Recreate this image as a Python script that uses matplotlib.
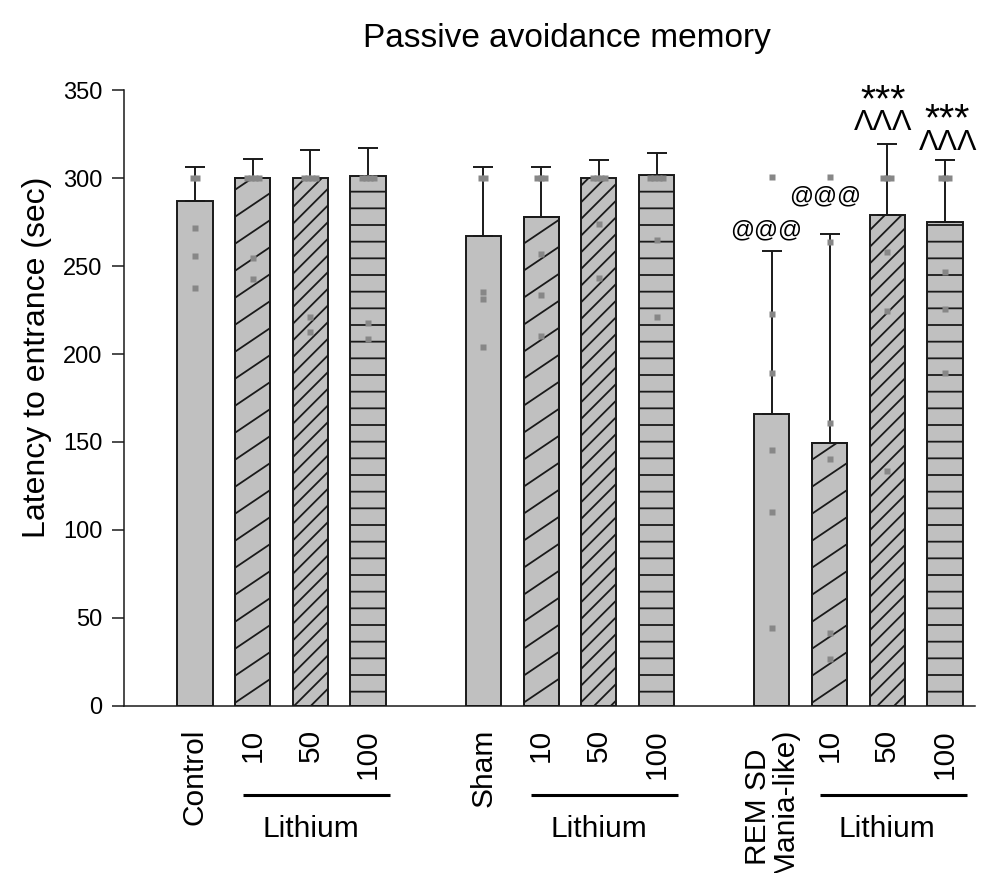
import numpy as np
import matplotlib
matplotlib.use("Agg")
import matplotlib.pyplot as plt
from matplotlib.collections import LineCollection
from matplotlib.transforms import blended_transform_factory

plt.rcParams['font.family'] = ['Liberation Sans', 'DejaVu Sans']
plt.rcParams['hatch.linewidth'] = 1.3
plt.rcParams['hatch.color'] = '#1a1a1a'

# ---------------- data ----------------
tick_labels = ['Control', '10', '50', '100',
               'Sham', '10', '50', '100',
               'REM SD\n(Mania-like)', '10', '50', '100']
positions = [0, 1, 2, 3, 5, 6, 7, 8, 10, 11, 12, 13]
means = [287, 300, 300, 301, 267, 278, 300, 301.5, 166, 149.6, 279, 275]
sem = [19, 11, 16, 16, 39, 28, 10, 12.5, 92.5, 118.5, 40.5, 35]
patterns = ['none', 'sparse', 'dense', 'horiz'] * 3

points = [
    [300, 300, 271.8, 255.7, 237.7],
    [300, 300, 300, 300, 254.7, 242.6],
    [300, 300, 300, 300, 221, 212.6],
    [300, 300, 300, 300, 217.4, 208.5],
    [300, 300, 235.4, 231, 203.8],
    [300, 300, 300, 256.6, 233.5, 210.4],
    [300, 300, 300, 300, 273.9, 243.4],
    [300, 300, 300, 300, 264.8, 220.8],
    [300.4, 223, 189.4, 145.3, 110.4, 44.5],
    [300.4, 263.8, 161, 140.3, 41.5, 26.7],
    [300, 300, 300, 257.8, 224.6, 133.7],
    [300, 300, 300, 246.6, 225.8, 189],
]

ann_text = ['@@@', '@@@', '***', 'ΛΛΛ', '***', 'ΛΛΛ']
ann_bar = [8, 9, 10, 10, 11, 11]
ann_dx = [-0.1, -0.08, -0.08, -0.07, 0.04, 0.05]
ann_y = [267, 286, 338, 327, 327, 316]
ann_size = [17, 17, 28, 21, 28, 21]

group_label = 'Lithium'
group_bars = [(1, 3), (5, 7), (9, 11)]   # indices of first/last lithium bar

# ---------------- style ----------------
fill = '#c0c0c0'
edge = '#1a1a1a'
dot_color = '#878787'
bar_width = 0.61

fig = plt.figure(figsize=(9.86, 8.73), dpi=100)
ax = fig.add_axes([0.1258, 0.1913, 0.863, 0.7056])
ax.set_xlim(-1.23, 13.52)
ax.set_ylim(0, 350)

hatch_map = {'none': None, 'sparse': None, 'dense': '//', 'horiz': '-'}
bars = ax.bar(positions, means, width=bar_width, color=fill, edgecolor=edge,
              linewidth=1.4, zorder=2)
for b, p in zip(bars, patterns):
    h = hatch_map[p]
    if h:
        b.set_hatch(h)

# custom sparse diagonal hatch (clipped to its bar)
p0 = ax.transData.transform((0, 0))
p1 = ax.transData.transform((1, 1))
sx, sy = p1[0] - p0[0], p1[1] - p0[1]
for b, p in zip(bars, patterns):
    if p != 'sparse':
        continue
    x0, y0 = b.get_x(), b.get_y()
    w, h = b.get_width(), b.get_height()
    m = np.tan(np.radians(34)) * sx / sy
    dy = 27.0 / sy
    starts = np.arange(y0 - m * w, y0 + h, dy)
    segs = [[(x0, s), (x0 + w, s + m * w)] for s in starts]
    lc = LineCollection(segs, colors=edge, linewidths=1.3, zorder=2.2)
    ax.add_collection(lc, autolim=False)
    lc.set_clip_path(b.get_path(), b.get_transform())
    ax.bar([b.get_x() + w / 2], [h], width=w, fill=False, edgecolor=edge,
           linewidth=1.4, zorder=2.3)

ax.errorbar(positions, means, yerr=[np.zeros(len(sem)), sem], fmt='none',
            ecolor=edge, elinewidth=1.4, capsize=7.2, capthick=1.4, zorder=3)

# individual points
for pos, vals in zip(positions, points):
    vals = np.array(vals)
    xs = np.full(len(vals), float(pos))
    uniq, counts = np.unique(vals, return_counts=True)
    for u, c in zip(uniq, counts):
        if c > 1:
            idx = np.where(vals == u)[0]
            xs[idx] = pos + (np.arange(c) - (c - 1) / 2) * 0.07
    ax.plot(xs, vals, 's', ms=4, color=dot_color, mec='none', zorder=4)

# annotations
for t, bi, dx, y, fs in zip(ann_text, ann_bar, ann_dx, ann_y, ann_size):
    ax.text(positions[bi] + dx, y, t, ha='center', va='baseline',
            fontsize=fs, color='black', clip_on=False, zorder=5)

# axes styling
for s in ['top', 'right']:
    ax.spines[s].set_visible(False)
for s in ['left', 'bottom']:
    ax.spines[s].set_linewidth(1.1)
    ax.spines[s].set_color(edge)
ax.set_yticks(np.arange(0, 351, 50))
ax.tick_params(axis='y', direction='out', length=8.6, width=1.1, pad=7,
               labelsize=17, colors=edge, labelcolor='black')
ax.set_xticks(positions)
ax.set_xticklabels(tick_labels, rotation=90, fontsize=21.5,
                   multialignment='center', linespacing=0.95)
ax.tick_params(axis='x', length=0, pad=16.5)

# group underline + label
trans = blended_transform_factory(ax.transData, ax.transAxes)
for a, bidx in group_bars:
    xa = positions[a] - 0.17
    xb = positions[bidx] + 0.38
    ax.plot([xa, xb], [-0.1445, -0.1445], color='black', lw=2.2,
            transform=trans, clip_on=False, solid_capstyle='butt')
    ax.text((positions[a] + positions[bidx]) / 2, -0.2127, group_label,
            transform=trans, ha='center', va='baseline', fontsize=21.5)

fig.text(0.575, 0.946, 'Passive avoidance memory', ha='center',
         va='baseline', fontsize=24)
fig.text(0.038, 1 - 357 / 873, 'Latency to entrance (sec)', rotation=90,
         ha='center', va='center', fontsize=23)

fig.savefig('out.png', dpi=100, facecolor='white')
